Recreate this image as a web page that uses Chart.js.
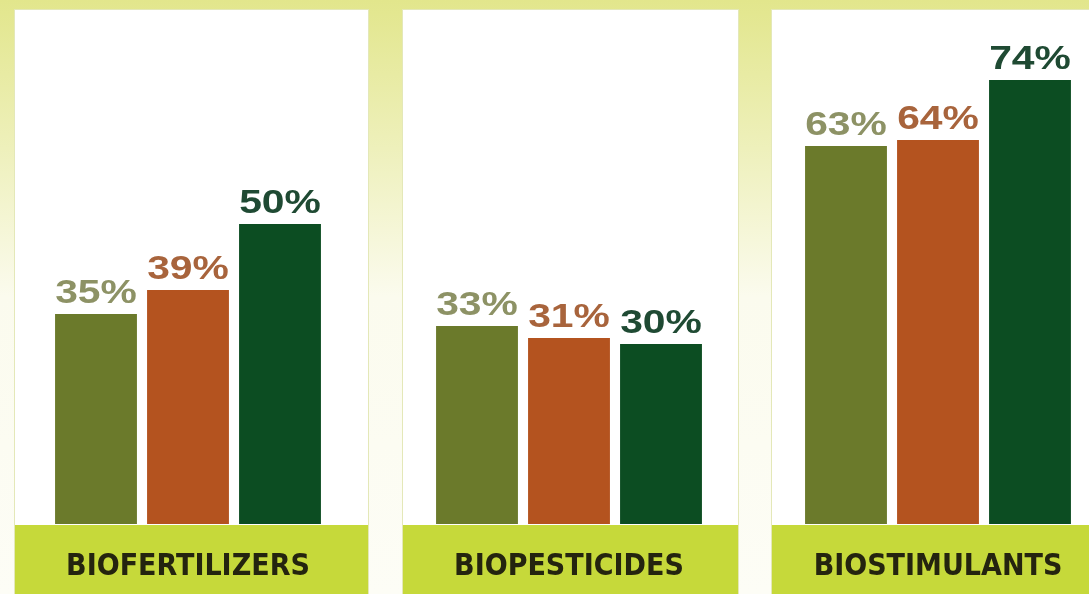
<!DOCTYPE html>
<html>
<head>
<meta charset="utf-8">
<script src="https://cdn.jsdelivr.net/npm/chart.js@4"></script>
<style>
  html, body { margin: 0; padding: 0; }
  body {
    width: 1089px; height: 594px; overflow: hidden; position: relative;
    background: linear-gradient(to bottom, #e2e68c 0%, #eef0bb 25%, #fbfbee 50%, #fdfdf6 100%);
  }
  .panel {
    position: absolute; top: 10px; height: 600px; background: #fff;
    box-shadow: 0 0 0 1px #e4e8b8;
  }
  .band {
    position: absolute; left: 0; right: 0; top: 515px; height: 85px; background: #c6d93a;
  }
  .panel canvas { position: absolute; left: 0; top: 0; }
</style>
</head>
<body>
<div class="panel" id="p0" style="left:15px;width:353px"><div class="band"></div><canvas id="c0"></canvas></div>
<div class="panel" id="p1" style="left:403px;width:335px"><div class="band"></div><canvas id="c1"></canvas></div>
<div class="panel" id="p2" style="left:772px;width:335px"><div class="band"></div><canvas id="c2"></canvas></div>
<script>
// data
const categories = ['BIOFERTILIZERS', 'BIOPESTICIDES', 'BIOSTIMULANTS'];
const seriesOne = [35, 33, 63];
const seriesTwo = [39, 31, 64];
const seriesThree = [50, 30, 74];

const barColors = ['#6b7a2b', '#b4531f', '#0c4d22'];
const labelColors = ['#8d9265', '#a8643c', '#1f4a33'];
const pads = [[35, 42], [28, 31], [28, 31]];

// draws the "35%" style labels above each bar (text is a bit wide in the original)
const valueLabels = {
    id: 'valueLabels',
    afterDatasetsDraw(chart) {
        const ctx = chart.ctx;
        chart.data.datasets.forEach(function(ds, i) {
            chart.getDatasetMeta(i).data.forEach(function(bar, j) {
                ctx.save();
                ctx.translate(bar.x, bar.y - 11);
                ctx.scale(1.2, 1);
                ctx.font = 'bold 34px "Liberation Sans", Arial, sans-serif';
                ctx.textAlign = 'center';
                ctx.textBaseline = 'alphabetic';
                ctx.fillStyle = labelColors[i];
                ctx.fillText(ds.data[j] + '%', 0, 0);
                ctx.restore();
            });
        });
    }
};

function createPanel(idx) {
    const ctx = document.getElementById('c' + idx);
    const box = document.getElementById('p' + idx);
    ctx.width = box.offsetWidth;
    ctx.height = 584;
    new Chart(ctx, {
        type: 'bar',
        data: {
            labels: [categories[idx]],
            datasets: [
                { data: [seriesOne[idx]], backgroundColor: barColors[0] },
                { data: [seriesTwo[idx]], backgroundColor: barColors[1] },
                { data: [seriesThree[idx]], backgroundColor: barColors[2] }
            ]
        },
        options: {
            responsive: false,
            animation: false,
            layout: { padding: { left: pads[idx][0], right: pads[idx][1], top: 4, bottom: 0 } },
            categoryPercentage: 1,
            barPercentage: 0.89,
            plugins: { legend: { display: false }, tooltip: { enabled: false } },
            scales: {
                y: { display: false, min: 0, max: 85 },
                x: {
                    grid: { display: false, drawTicks: false },
                    border: { display: false },
                    ticks: {
                        color: '#24240f',
                        padding: 25,
                        font: { family: '"DejaVu Sans Condensed", "DejaVu Sans", sans-serif', size: 30, weight: 'bold' }
                    },
                    afterFit(scale) { scale.height = 70; }
                }
            }
        },
        plugins: [valueLabels]
    });
}

createPanel(0);
createPanel(1);
createPanel(2);
</script>
</body>
</html>
